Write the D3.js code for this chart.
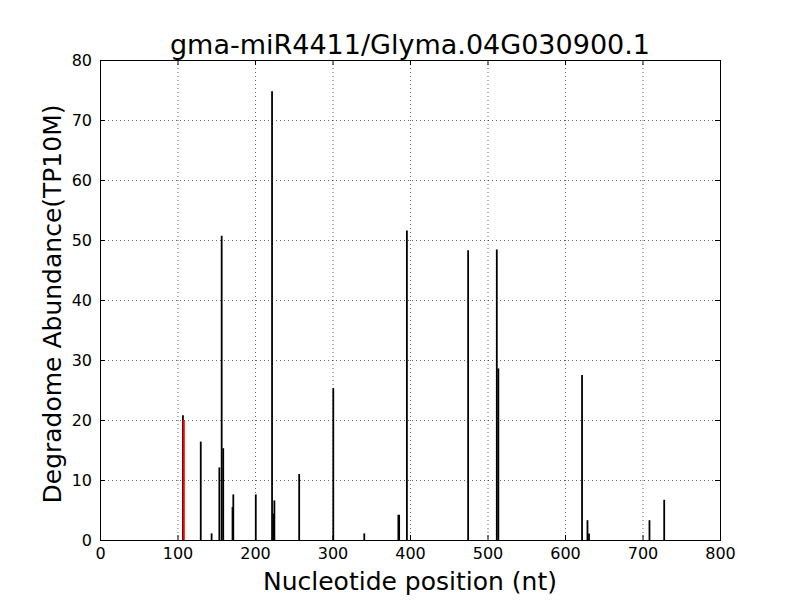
<!DOCTYPE html>
<html>
<head>
<meta charset="utf-8">
<script src="https://cdn.jsdelivr.net/npm/d3@7.9.0/dist/d3.min.js"></script>
<style>
  body { margin: 0; background: #fff; }
  svg text { font-family: "DejaVu Sans", sans-serif; fill: #000; }
</style>
</head>
<body>
<svg id="chart" width="800" height="600"></svg>
<script>
// data
const title = 'gma-miR4411/Glyma.04G030900.1';
const positions = [107, 130, 144, 154, 157, 159, 171, 172, 201, 222, 224, 225, 257, 301, 341, 385, 386, 396, 475, 512, 514, 622, 629, 631, 709, 728];
const abundance = [20.8, 16.4, 1.1, 12.1, 50.7, 15.3, 5.5, 7.6, 7.6, 74.8, 4.4, 6.6, 11.0, 25.3, 1.1, 4.2, 4.2, 51.6, 48.3, 48.4, 28.6, 27.5, 3.3, 1.1, 3.3, 6.7];
const targetPos = [108];
const targetVal = [20.0];
const xTicks = [0, 100, 200, 300, 400, 500, 600, 700, 800];
const yTicks = [0, 10, 20, 30, 40, 50, 60, 70, 80];

const svg = d3.select('#chart');
const mLeft = 100, mRight = 720, mTop = 60, mBottom = 540;

const x = d3.scaleLinear().domain([0, 800]).range([mLeft, mRight]);
const y = d3.scaleLinear().domain([0, 80]).range([mBottom, mTop]);

// grid
const grid = svg.append('g');
grid.selectAll('.gx').data(xTicks.slice(1, -1)).join('line')
  .attr('x1', d => x(d) + 0.5).attr('x2', d => x(d) + 0.5)
  .attr('y1', mTop).attr('y2', mBottom)
  .attr('stroke', '#000').attr('stroke-width', 0.6).attr('stroke-dasharray', '1,3');
grid.selectAll('.gy').data(yTicks.slice(1, -1)).join('line')
  .attr('y1', d => y(d) + 0.5).attr('y2', d => y(d) + 0.5)
  .attr('x1', mLeft).attr('x2', mRight)
  .attr('stroke', '#000').attr('stroke-width', 0.6).attr('stroke-dasharray', '1,3');

// bars (vertical lines)
const bars = positions.map((p, i) => ({ p, v: abundance[i] }));
svg.append('g').selectAll('line').data(bars).join('line')
  .attr('x1', d => x(d.p)).attr('x2', d => x(d.p))
  .attr('y1', y(0)).attr('y2', d => y(d.v))
  .attr('stroke', '#000').attr('stroke-width', 1.8);

const hits = targetPos.map((p, i) => ({ p, v: targetVal[i] }));
svg.append('g').selectAll('line').data(hits).join('line')
  .attr('x1', d => x(d.p)).attr('x2', d => x(d.p))
  .attr('y1', y(0)).attr('y2', d => y(d.v))
  .attr('stroke', '#ff0000').attr('stroke-width', 2.2);

// axes with inward ticks
const ax = svg.append('g');
ax.append('g').attr('transform', `translate(0,${mBottom})`)
  .call(d3.axisBottom(x).tickValues(xTicks).tickSize(-5).tickPadding(8).tickFormat(d3.format('d')));
ax.append('g').attr('transform', `translate(0,${mTop})`)
  .call(d3.axisTop(x).tickValues(xTicks).tickSize(-5).tickFormat(''));
ax.append('g').attr('transform', `translate(${mLeft},0)`)
  .call(d3.axisLeft(y).tickValues(yTicks).tickSize(-5).tickPadding(8).tickFormat(d3.format('d')));
ax.append('g').attr('transform', `translate(${mRight},0)`)
  .call(d3.axisRight(y).tickValues(yTicks).tickSize(-5).tickFormat(''));
ax.selectAll('.domain').remove();
ax.selectAll('.tick line').attr('stroke', '#000');
ax.selectAll('.tick text').attr('font-size', 16).attr('font-family', '"DejaVu Sans", sans-serif').attr('fill', '#000');

// frame
svg.append('rect').attr('x', mLeft + 0.5).attr('y', mTop + 0.5)
  .attr('width', mRight - mLeft).attr('height', mBottom - mTop)
  .attr('fill', 'none').attr('stroke', '#000').attr('stroke-width', 1);

// labels
svg.append('text').attr('x', (mLeft + mRight) / 2).attr('y', 54)
  .attr('text-anchor', 'middle').attr('font-size', 27).text(title);
svg.append('text').attr('x', (mLeft + mRight) / 2).attr('y', 590)
  .attr('text-anchor', 'middle').attr('font-size', 25).text('Nucleotide position (nt)');
svg.append('text').attr('transform', `translate(61,${(mTop + mBottom) / 2 + 4}) rotate(-90)`)
  .attr('text-anchor', 'middle').attr('font-size', 25).text('Degradome Abundance(TP10M)');
</script>
</body>
</html>
